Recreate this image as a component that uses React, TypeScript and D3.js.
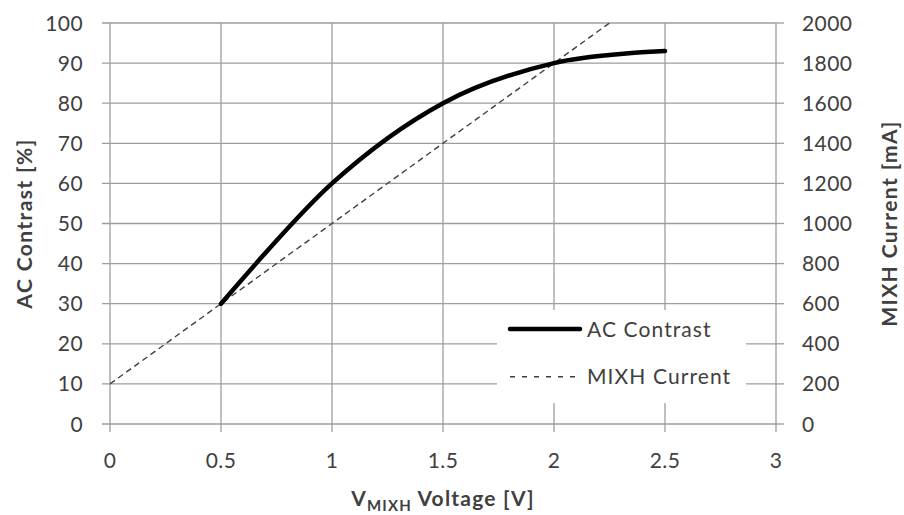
import * as d3 from 'd3';

const voltage = [0.5, 1, 1.5, 2, 2.5];
const acContrast = [30, 60, 80, 90, 93];
const currentVoltage = [0, 0.5, 1, 1.5, 2, 2.5];
const mixhCurrent = [200, 600, 1000, 1400, 1800, 2200];
const xTicks = [0, 0.5, 1, 1.5, 2, 2.5, 3];
const leftTicks = [0, 10, 20, 30, 40, 50, 60, 70, 80, 90, 100];
const rightTicks = [0, 200, 400, 600, 800, 1000, 1200, 1400, 1600, 1800, 2000];

const W = 904;
const H = 515;
const margin = { top: 23, right: 128, bottom: 91, left: 110 };
const FONT = 'Lato, "Open Sans", sans-serif';
const TEXT = '#404040';
const GRID = '#9d9d9d';

export default function App() {
  const innerW = W - margin.left - margin.right;
  const innerH = H - margin.top - margin.bottom;

  const x = d3.scaleLinear().domain([0, 3]).range([0, innerW]);
  const yL = d3.scaleLinear().domain([0, 100]).range([innerH, 0]);
  const yR = d3.scaleLinear().domain([0, 2000]).range([innerH, 0]);

  // Excel-style smoothed line ~ uniform Catmull-Rom
  const contrastLine = d3
    .line<number>()
    .x((d, i) => x(voltage[i]))
    .y(d => yL(d))
    .curve(d3.curveCardinal.tension(0));

  const currentLine = d3
    .line<number>()
    .x((d, i) => x(currentVoltage[i]))
    .y(d => yR(d));

  // legend box (in plot coordinates)
  const lg = { x: 387, y: 287, w: 249, h: 93 };

  return (
    <svg
      width={W}
      height={H}
      style={{ position: 'absolute', left: 0, top: 0, background: '#fff' }}
      fontFamily={FONT}
    >
      <defs>
        <clipPath id="plot-clip">
          <rect x={0} y={0} width={innerW} height={innerH} />
        </clipPath>
      </defs>
      <g transform={`translate(${margin.left},${margin.top})`}>
        {/* horizontal grid + left ticks */}
        {leftTicks.map(t => (
          <line
            key={'h' + t}
            x1={-8}
            x2={innerW}
            y1={yL(t)}
            y2={yL(t)}
            stroke={GRID}
            strokeWidth={1.3}
          />
        ))}
        {/* vertical grid + bottom ticks */}
        {xTicks.map(t => (
          <line
            key={'v' + t}
            x1={x(t)}
            x2={x(t)}
            y1={0}
            y2={innerH + 8}
            stroke={GRID}
            strokeWidth={1.3}
          />
        ))}
        {/* right ticks */}
        {rightTicks.map(t => (
          <line
            key={'r' + t}
            x1={innerW}
            x2={innerW + 8}
            y1={yR(t)}
            y2={yR(t)}
            stroke={GRID}
            strokeWidth={1.3}
          />
        ))}

        {/* tick labels */}
        {leftTicks.map(t => (
          <text
            key={'lt' + t}
            x={-27}
            y={yL(t)}
            dy="0.36em"
            textAnchor="end"
            fontSize={21}
            letterSpacing={0.4}
            fill={TEXT}
          >
            {t}
          </text>
        ))}
        {rightTicks.map(t => (
          <text
            key={'rt' + t}
            x={innerW + 26}
            y={yR(t)}
            dy="0.36em"
            textAnchor="start"
            fontSize={21}
            letterSpacing={0.4}
            fill={TEXT}
          >
            {t}
          </text>
        ))}
        {xTicks.map(t => (
          <text
            key={'xt' + t}
            x={x(t)}
            y={innerH + 36}
            dy="0.36em"
            textAnchor="middle"
            fontSize={21}
            letterSpacing={0.4}
            fill={TEXT}
          >
            {t}
          </text>
        ))}

        {/* series */}
        <g clipPath="url(#plot-clip)">
          <path
            d={currentLine(mixhCurrent) || ''}
            fill="none"
            stroke="#404040"
            strokeWidth={1.4}
            strokeDasharray="6,4"
          />
        </g>
        <path
          d={contrastLine(acContrast) || ''}
          fill="none"
          stroke="#000"
          strokeWidth={4.5}
          strokeLinecap="round"
        />

        {/* legend */}
        <rect x={lg.x} y={lg.y} width={lg.w} height={lg.h} fill="#fff" />
        <line
          x1={lg.x + 13}
          x2={lg.x + 83}
          y1={yL(23.7)}
          y2={yL(23.7)}
          stroke="#000"
          strokeWidth={4.5}
          strokeLinecap="round"
        />
        <text x={lg.x + 90} y={yL(23.7)} dy="0.36em" fontSize={21} letterSpacing={1.1} fill={TEXT}>
          AC Contrast
        </text>
        <line
          x1={lg.x + 13}
          x2={lg.x + 78}
          y1={yL(11.8)}
          y2={yL(11.8)}
          stroke="#404040"
          strokeWidth={1.4}
          strokeDasharray="5,7"
        />
        <text x={lg.x + 90} y={yL(11.8)} dy="0.36em" fontSize={21} letterSpacing={1.1} fill={TEXT}>
          MIXH Current
        </text>
      </g>

      {/* axis titles */}
      <text
        transform={`translate(32,${margin.top + innerH / 2}) rotate(-90)`}
        textAnchor="middle"
        fontSize={21}
        fontWeight="bold"
        letterSpacing={1.4}
        fill={TEXT}
      >
        AC Contrast [%]
      </text>
      <text
        transform={`translate(897,${margin.top + innerH / 2}) rotate(-90)`}
        textAnchor="middle"
        fontSize={21}
        fontWeight="bold"
        letterSpacing={1.4}
        fill={TEXT}
      >
        MIXH Current [mA]
      </text>
      <text
        x={margin.left + innerW / 2}
        y={506}
        textAnchor="middle"
        fontSize={21}
        fontWeight="bold"
        letterSpacing={1.2}
        fill={TEXT}
      >
        V
        <tspan fontSize={15} dy={5}>
          MIXH
        </tspan>
        <tspan dy={-5}> Voltage [V]</tspan>
      </text>
    </svg>
  );
}
